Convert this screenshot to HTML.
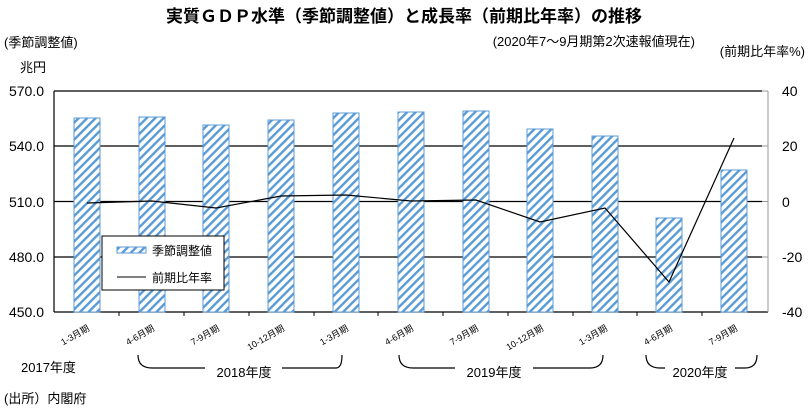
<!DOCTYPE html>
<html><head><meta charset="utf-8"><style>
body{margin:0;background:#fff;}
svg text{font-family:"Liberation Sans","Noto Sans CJK JP",sans-serif;fill:#000;}
</style></head><body>
<svg width="808" height="411" viewBox="0 0 808 411" xmlns="http://www.w3.org/2000/svg">
<defs>
<pattern id="st" width="6" height="6" patternUnits="userSpaceOnUse" patternTransform="rotate(45)">
<rect width="6" height="6" fill="#fff"/><rect x="0" y="0" width="2.4" height="6" fill="#5b9bd5"/>
</pattern>
</defs>
<text x="404" y="22" font-size="17" font-weight="bold" text-anchor="middle">実質ＧＤＰ水準（季節調整値）と成長率（前期比年率）の推移</text>
<text x="4" y="47" font-size="13">(季節調整値)</text>
<text x="20" y="72" font-size="13">兆円</text>
<text x="695" y="46" font-size="13" text-anchor="end">(2020年7～9月期第2次速報値現在)</text>
<text x="805" y="56" font-size="13" text-anchor="end">(前期比年率%)</text>
<g font-size="14">
<text x="44" y="96" text-anchor="end">570.0</text>
<text x="44" y="151" text-anchor="end">540.0</text>
<text x="44" y="207" text-anchor="end">510.0</text>
<text x="44" y="262" text-anchor="end">480.0</text>
<text x="44" y="317" text-anchor="end">450.0</text>
<text x="782" y="96">40</text>
<text x="782" y="151">20</text>
<text x="782" y="207">0</text>
<text x="782" y="262">-20</text>
<text x="782" y="317">-40</text>
</g>
<g stroke="#000" stroke-width="1.2">
<line x1="54" y1="91" x2="762" y2="91"/>
<line x1="54" y1="146" x2="762" y2="146"/>
<line x1="54" y1="201.5" x2="762" y2="201.5"/>
<line x1="54" y1="257" x2="762" y2="257"/>
<line x1="54" y1="312" x2="768" y2="312"/>
<line x1="54" y1="91" x2="54" y2="312"/>
</g>
<line x1="768" y1="91" x2="768" y2="312" stroke="#999"/>
<g stroke="#999">
<line x1="762" y1="91" x2="768" y2="91"/><line x1="762" y1="146" x2="768" y2="146"/><line x1="762" y1="201.5" x2="768" y2="201.5"/><line x1="762" y1="257" x2="768" y2="257"/>
</g>
<g fill="url(#st)" stroke="#5b9bd5" stroke-width="1">
<rect x="74" y="118" width="26" height="194"/>
<rect x="139" y="117" width="26" height="195"/>
<rect x="203" y="125" width="26" height="187"/>
<rect x="268" y="120" width="26" height="192"/>
<rect x="333" y="113" width="26" height="199"/>
<rect x="398" y="112" width="26" height="200"/>
<rect x="463" y="111" width="26" height="201"/>
<rect x="527" y="129" width="26" height="183"/>
<rect x="592" y="136" width="26" height="176"/>
<rect x="656" y="218" width="26" height="94"/>
<rect x="721" y="170" width="26" height="142"/>
</g>
<g stroke="#000">
<line x1="119" y1="312" x2="119" y2="316"/><line x1="184" y1="312" x2="184" y2="316"/><line x1="249" y1="312" x2="249" y2="316"/><line x1="314" y1="312" x2="314" y2="316"/><line x1="378" y1="312" x2="378" y2="316"/><line x1="443" y1="312" x2="443" y2="316"/><line x1="508" y1="312" x2="508" y2="316"/><line x1="573" y1="312" x2="573" y2="316"/><line x1="637" y1="312" x2="637" y2="316"/><line x1="702" y1="312" x2="702" y2="316"/>
</g>
<polyline fill="none" stroke="#000" stroke-width="1.2" points="87,203 152,201 216,208 281,196 346,195 411,201 476,200 540,222 605,208 669,282 734,138"/>
<rect x="102" y="236" width="122" height="54" fill="#fff" stroke="#000"/>
<rect x="117" y="247" width="29" height="6" fill="url(#st)" stroke="#5b9bd5"/>
<line x1="117" y1="277" x2="146" y2="277" stroke="#000"/>
<text x="152" y="255" font-size="12">季節調整値</text>
<text x="152" y="282" font-size="12">前期比年率</text>
<g font-size="9" text-anchor="end">
<text transform="translate(90,330) rotate(-30)">1-3月期</text>
<text transform="translate(155,330) rotate(-30)">4-6月期</text>
<text transform="translate(220,330) rotate(-30)">7-9月期</text>
<text transform="translate(285,330) rotate(-30)">10-12月期</text>
<text transform="translate(349,330) rotate(-30)">1-3月期</text>
<text transform="translate(414,330) rotate(-30)">4-6月期</text>
<text transform="translate(479,330) rotate(-30)">7-9月期</text>
<text transform="translate(544,330) rotate(-30)">10-12月期</text>
<text transform="translate(608,330) rotate(-30)">1-3月期</text>
<text transform="translate(673,330) rotate(-30)">4-6月期</text>
<text transform="translate(738,330) rotate(-30)">7-9月期</text>
</g>
<g font-size="13">
<text x="21" y="372">2017年度</text>
<text x="244" y="377" text-anchor="middle">2018年度</text>
<text x="494" y="377" text-anchor="middle">2019年度</text>
<text x="700" y="377" text-anchor="middle">2020年度</text>
<text x="4" y="403">(出所）内閣府</text>
</g>
<g fill="none" stroke="#000" stroke-width="1.2">
<path d="M138,355 Q138,368 152,368 L205,368 M282,368 L336,368 Q342,368 342,355"/>
<path d="M399,355 Q399,368 413,368 L455,368 M533,368 L590,368 Q603,368 603,355"/>
<path d="M646,355 Q646,368 660,368 L665,368 M735,368 L745,368 Q757,368 757,355"/>
</g>
</svg>
</body></html>
